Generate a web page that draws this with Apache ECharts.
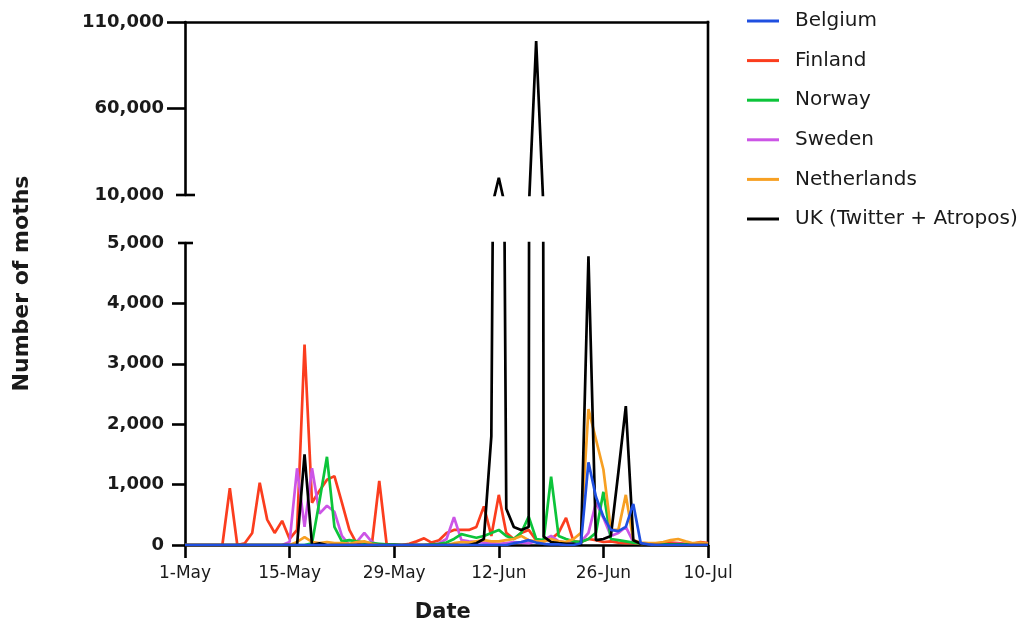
<!DOCTYPE html>
<html>
<head>
<meta charset="utf-8">
<script src="https://cdn.jsdelivr.net/npm/echarts@6/dist/echarts.min.js"></script>
<style>html,body{margin:0;padding:0;background:#fff}#c{width:1025px;height:630px}</style>
</head>
<body>
<div id="c"></div>
<script>
// Day offsets from 1-May (0 = 1-May ... 70 = 10-Jul)
const days = Array.from({length: 71}, (_, i) => i);
const xTickLabels = ['1-May', '15-May', '29-May', '12-Jun', '26-Jun', '10-Jul'];
const seriesNames = ['Belgium', 'Finland', 'Norway', 'Sweden', 'Netherlands', 'UK (Twitter + Atropos)'];
const seriesColors = ['#1f4fe0', '#fb3d1e', '#0cc43a', '#cc55e6', '#f7a023', '#000000'];

const belgium = [
  0,0,0,0,0,0,0,0,0,0,
  0,0,0,0,0,0,0,0,0,0,
  0,0,0,0,0,0,0,0,0,0,
  0,0,0,0,0,0,0,0,0,0,
  0,0,0,0,30,50,80,40,20,10,
  10,0,0,30,1370,800,470,250,230,300,
  680,30,10,0,0,0,0,0,0,0,
  0];
const finland = [
  0,0,0,0,0,0,940,0,30,200,
  1030,420,200,400,100,250,3320,700,900,1080,
  1140,700,250,20,0,0,1060,0,0,0,
  20,60,110,40,80,200,250,250,250,300,
  640,150,830,200,100,200,250,80,60,100,
  200,450,60,50,100,80,50,60,40,30,
  30,20,10,20,30,40,30,20,20,50,
  30];
const norway = [
  0,0,0,0,0,0,0,0,0,0,
  0,0,0,0,0,0,0,30,730,1460,
  300,60,80,60,40,30,20,10,10,0,
  0,0,0,10,20,40,100,180,150,120,
  150,200,250,150,100,200,470,100,80,1130,
  150,100,60,50,100,200,880,100,80,60,
  40,20,20,10,10,10,10,10,10,10,
  10];
const sweden = [
  0,0,0,0,0,0,0,0,0,0,
  0,0,0,0,50,1270,300,1270,520,650,
  550,150,0,50,200,50,0,0,0,0,
  0,0,0,0,30,100,460,80,60,50,
  40,30,20,30,50,40,30,60,80,150,
  60,40,30,50,200,700,450,150,200,300,
  50,30,20,20,10,10,20,10,10,20,
  10];
const netherlands = [
  0,0,0,0,0,0,0,0,0,0,
  0,0,0,0,0,50,130,50,30,50,
  30,30,20,50,60,20,0,0,0,0,
  0,0,0,0,0,0,30,50,40,60,
  80,60,60,80,100,150,80,60,60,100,
  60,50,100,200,2250,1750,1250,250,250,830,
  80,40,30,30,50,80,100,60,30,40,
  20];
const uk = [
  0,0,0,0,0,0,0,0,0,0,
  0,0,0,0,0,0,1500,0,30,0,
  0,0,0,0,0,0,0,0,0,0,
  0,0,0,0,0,0,0,0,0,30,
  100,1800,20000,600,300,250,300,99000,140,50,
  30,20,20,0,4780,80,100,150,1200,2300,
  80,20,0,0,0,0,0,0,0,0,
  0];

const lowTicks = [0, 1000, 2000, 3000, 4000, 5000];
const highTicks = [10000, 60000, 110000];

const values = [belgium, finland, norway, sweden, netherlands, uk];
const drawOrder = [1, 3, 2, 4, 5, 0];

const FONT = 'DejaVu Sans';
const fmt = v => Number(v).toLocaleString('en-US');

const series = [];
[0, 1].forEach(g => {
  drawOrder.forEach(i => {
    series.push({
      name: seriesNames[i],
      type: 'line',
      xAxisIndex: g,
      yAxisIndex: g,
      data: days.map((d, k) => [d, values[i][k]]),
      symbol: 'none',
      showSymbol: false,
      clip: true,
      lineStyle: {color: seriesColors[i], width: 2.7},
      itemStyle: {color: seriesColors[i]},
      emphasis: {disabled: true},
      animation: false
    });
  });
});

const axisLineStyle = {color: '#000', width: 2.6};

const chart = echarts.init(document.getElementById('c'), null, {renderer: 'canvas'});
const option = {
  animation: false,
  backgroundColor: '#fff',
  grid: [
    {left: 185, right: 317, top: 22, height: 173},
    {left: 185, right: 317, top: 243, height: 302}
  ],
  xAxis: [
    {
      gridIndex: 0, type: 'value', min: 0, max: 70, interval: 14, position: 'top',
      axisLine: {show: true, onZero: false, lineStyle: axisLineStyle},
      axisTick: {show: false}, axisLabel: {show: false}, splitLine: {show: false}
    },
    {
      gridIndex: 1, type: 'value', min: 0, max: 70, interval: 14, position: 'bottom',
      axisLine: {show: true, onZero: false, lineStyle: axisLineStyle},
      axisTick: {show: true, length: 13, lineStyle: axisLineStyle},
      axisLabel: {
        show: true, margin: 20, fontFamily: FONT, fontSize: 17, color: '#1a1a1a',
        formatter: v => xTickLabels[Math.round(v / 14)]
      },
      splitLine: {show: false}
    }
  ],
  yAxis: [
    {
      gridIndex: 0, type: 'value', min: 10000, max: 110000, interval: 50000,
      axisLine: {show: true, lineStyle: axisLineStyle},
      axisTick: {show: true, length: 18, lineStyle: axisLineStyle, customValues: [60000, 110000]},
      axisLabel: {
        show: true, margin: 21, fontFamily: FONT, fontSize: 18, fontWeight: 'bold', color: '#1a1a1a',
        customValues: highTicks, formatter: fmt
      },
      splitLine: {show: false}
    },
    {
      gridIndex: 1, type: 'value', min: 0, max: 5000, interval: 1000,
      axisLine: {show: true, onZero: false, lineStyle: axisLineStyle},
      axisTick: {show: true, length: 13, lineStyle: axisLineStyle, customValues: [0, 1000, 2000, 3000, 4000]},
      axisLabel: {
        show: true, margin: 21, fontFamily: FONT, fontSize: 18, fontWeight: 'bold', color: '#1a1a1a',
        customValues: lowTicks, formatter: fmt
      },
      splitLine: {show: false}
    }
  ],
  legend: {
    data: seriesNames,
    orient: 'vertical',
    left: 747, top: 11,
    padding: 0,
    icon: 'rect',
    itemWidth: 32, itemHeight: 3, itemGap: 19.6,
    textStyle: {fontFamily: FONT, fontSize: 20, color: '#1a1a1a', lineHeight: 20, padding: [0, 0, 0, 11]},
    selectedMode: false
  },
  series: series
};
chart.setOption(option);

// frame decorations and axis titles placed from the axes
const pTop = chart.convertToPixel({xAxisIndex: 0, yAxisIndex: 0}, [70, 110000]);
const pTopLow = chart.convertToPixel({xAxisIndex: 0, yAxisIndex: 0}, [0, 10000]);
const pLowTop = chart.convertToPixel({xAxisIndex: 1, yAxisIndex: 1}, [0, 5000]);
const pLowEnd = chart.convertToPixel({xAxisIndex: 1, yAxisIndex: 1}, [70, 0]);
const pDate = chart.convertToPixel({xAxisIndex: 1, yAxisIndex: 1}, [34.5, 0]);
const lineSt = {stroke: '#000', lineWidth: 2.6};
chart.setOption({
  graphic: [
    {type: 'line', silent: true, shape: {x1: pTop[0], y1: pTop[1] - 1.3, x2: pLowEnd[0], y2: pLowEnd[1] + 1.3}, style: lineSt},
    {type: 'line', silent: true, shape: {x1: pTopLow[0] - 9, y1: pTopLow[1], x2: pTopLow[0] + 10, y2: pTopLow[1]}, style: lineSt},
    {type: 'line', silent: true, shape: {x1: pLowTop[0] - 7, y1: pLowTop[1], x2: pLowTop[0] + 8, y2: pLowTop[1]}, style: lineSt},
    {type: 'text', silent: true, x: pDate[0], y: pDate[1] + 68,
      style: {text: 'Date', fontFamily: FONT, fontSize: 21, fontWeight: 'bold', fill: '#1a1a1a',
        align: 'center', verticalAlign: 'middle'}},
    {type: 'text', silent: true, x: 22, y: (pTop[1] + pLowEnd[1]) / 2, rotation: Math.PI / 2,
      style: {text: 'Number of moths', fontFamily: FONT, fontSize: 22, fontWeight: 'bold', fill: '#1a1a1a',
        align: 'center', verticalAlign: 'middle'}}
  ]
});
</script>
</body>
</html>
